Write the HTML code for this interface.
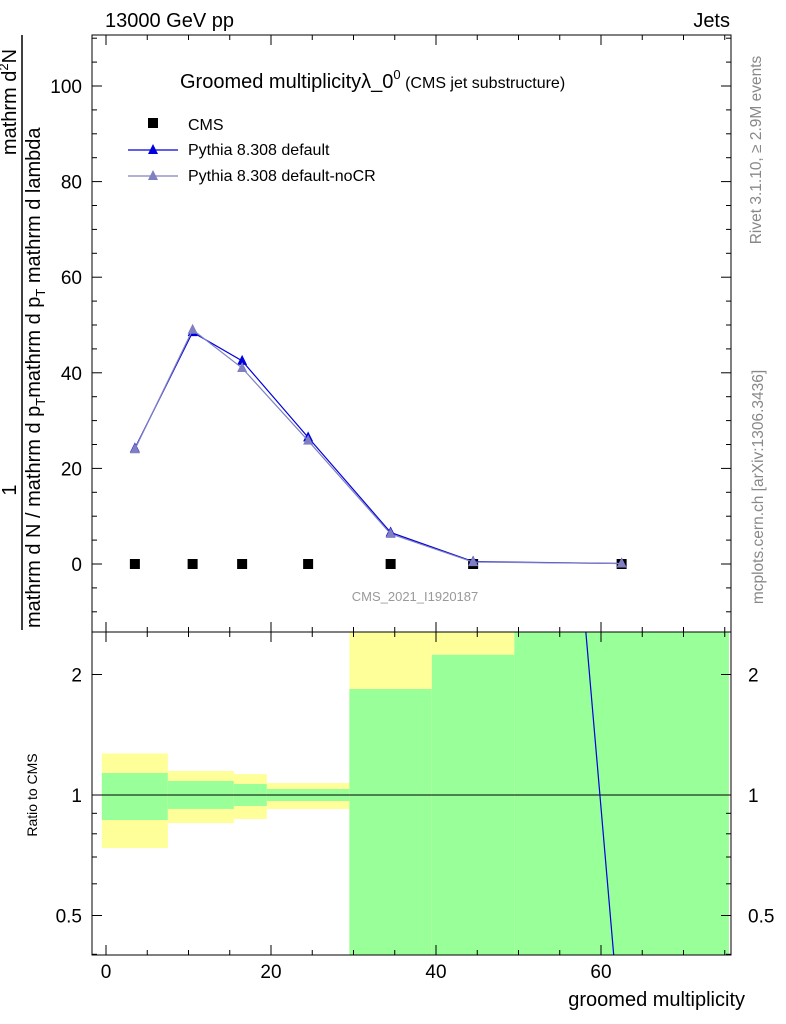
<!DOCTYPE html>
<html><head><meta charset="utf-8"><style>
body{margin:0;background:#fff}
svg{display:block;font-family:"Liberation Sans",sans-serif}
</style></head><body>
<svg id="c" width="786" height="1024" viewBox="0 0 786 1024">
<text x="105" y="27" font-size="20">13000 GeV pp</text>
<text x="730" y="27" font-size="20" text-anchor="end">Jets</text>
<text x="180" y="88" font-size="20">Groomed multiplicityλ_0<tspan font-size="13" dy="-9">0</tspan><tspan font-size="16" dy="9"> (CMS jet substructure)</tspan></text>
<text transform="translate(761,150) rotate(-90)" font-size="15.5" fill="#888" text-anchor="middle">Rivet 3.1.10, ≥ 2.9M events</text>
<text transform="translate(763,487) rotate(-90)" font-size="15.5" fill="#888" text-anchor="middle">mcplots.cern.ch [arXiv:1306.3436]</text>
<text x="415" y="601" font-size="13" fill="#999" text-anchor="middle">CMS_2021_I1920187</text>
<g font-size="20">
<text transform="translate(16,490) rotate(-90)" text-anchor="middle">1</text>
<text transform="translate(16,102) rotate(-90)" text-anchor="middle">mathrm d<tspan font-size="13" dy="-8">2</tspan><tspan dy="8">N</tspan></text>
<line x1="22" y1="630" x2="22" y2="35" stroke="#000" stroke-width="1.5"/>
<text transform="translate(40,628) rotate(-90)">mathrm d N / mathrm d p<tspan font-size="13" dy="5">T</tspan><tspan dy="-5">mathrm d p</tspan><tspan font-size="13" dy="5">T</tspan><tspan dy="-5"> mathrm d lambda</tspan></text>
</g>
<text transform="translate(37,795) rotate(-90)" font-size="14" text-anchor="middle">Ratio to CMS</text>
<text x="745" y="1006" font-size="20" text-anchor="end">groomed multiplicity</text>
<g id="g"></g>
</svg>
<script>
const binEdges=[-0.5,7.5,15.5,19.5,29.5,39.5,49.5,75.5];
const binCenters=[3.5,10.5,16.5,24.5,34.5,44.5,62.5];
const cmsValues=[0,0,0,0,0,0,0];
const pythiaDefault=[24.2,48.5,42.5,26.5,6.6,0.5,0.1];
const pythiaNoCR=[24,49,41,25.8,6.3,0.4,0.1];
const ratioDefault=[null,null,null,null,null,4700,0.235];
const greenLo=[0.866,0.923,0.939,0.966,0.3,0.3,0.3];
const greenHi=[1.135,1.084,1.065,1.035,1.84,2.24,3];
const yellowLo=[0.737,0.851,0.871,0.923,0.3,0.3,0.3];
const yellowHi=[1.27,1.148,1.128,1.071,3,3,3];
const xTicks=[0,20,40,60];
const yTicks=[0,20,40,60,80,100];
const rTicks=[0.5,1,2];

const L=92,R=731,T=35,MB=632,RB=955;
const X=v=>106+(v)*8.25;
const Y=v=>564-v*4.78;
const RY=v=>795-Math.log2(v)*120.5;
const NS="http://www.w3.org/2000/svg";
const g=document.getElementById('g');
function mk(t,a,p){const e=document.createElementNS(NS,t);for(const k in a)e.setAttribute(k,a[k]);(p||g).appendChild(e);return e;}

const defs=mk('defs',{});
const cp=mk('clipPath',{id:'rc'},defs);mk('rect',{x:L,y:MB,width:R-L,height:RB-MB},cp);
const cp2=mk('clipPath',{id:'mc'},defs);mk('rect',{x:L,y:T,width:R-L,height:MB-T},cp2);
const bands=mk('g',{'clip-path':'url(#rc)'});


for(let i=0;i<binCenters.length;i++){
 const x1=X(binEdges[i]),x2=X(binEdges[i+1]);
 const y=mk('rect',{x:x1,y:RY(yellowHi[i]),width:x2-x1,height:RY(yellowLo[i])-RY(yellowHi[i]),fill:'#ffff99'},bands);
 
 
 const gr=mk('rect',{x:x1,y:RY(greenHi[i]),width:x2-x1,height:RY(greenLo[i])-RY(greenHi[i]),fill:'#99ff99'},bands);
 
 
}
mk('line',{x1:L,x2:R,y1:RY(1),y2:RY(1),stroke:'#000'});
let rp=[];ratioDefault.forEach((v,i)=>{if(v!=null)rp.push(X(binCenters[i])+','+RY(v));});
const rl=mk('polyline',{points:rp.join(' '),fill:'none',stroke:'#0000dd','stroke-width':1.2,'clip-path':'url(#rc)'});



mk('rect',{x:L,y:T,width:R-L,height:MB-T,fill:'none',stroke:'#000'});
mk('rect',{x:L,y:MB,width:R-L,height:RB-MB,fill:'none',stroke:'#000'});
for(let v=0;v<=75;v+=5){const maj=v%20==0;const l=maj?10:5;
 for(const b of [MB,RB]){mk('line',{x1:X(v),x2:X(v),y1:b,y2:b-l,stroke:'#000'});}
 for(const t of [T,MB]){mk('line',{x1:X(v),x2:X(v),y1:t,y2:t+l,stroke:'#000'});}
}
xTicks.forEach(v=>{const t=mk('text',{x:X(v),y:978,'font-size':19,'text-anchor':'middle'});t.textContent=v;
 });
for(let v=-10;v<=110;v+=5){const l=v%20==0?10:5;
 mk('line',{x1:L,x2:L+l,y1:Y(v),y2:Y(v),stroke:'#000'});mk('line',{x1:R,x2:R-l,y1:Y(v),y2:Y(v),stroke:'#000'});}
yTicks.forEach(v=>{const t=mk('text',{x:82,y:Y(v)+7,'font-size':19,'text-anchor':'end'});t.textContent=v;
 });
[0.4,0.5,0.6,0.7,0.8,0.9,1,2].forEach(v=>{const l=rTicks.includes(v)?10:5;
 mk('line',{x1:L,x2:L+l,y1:RY(v),y2:RY(v),stroke:'#000'});mk('line',{x1:R,x2:R-l,y1:RY(v),y2:RY(v),stroke:'#000'});});
rTicks.forEach(v=>{for(const [x,a] of [[82,'end'],[748,'start']]){const t=mk('text',{x:x,y:RY(v)+7,'font-size':19,'text-anchor':a});t.textContent=v;
 }});

function series(vals,col,name){
 const gg=mk('g',{'clip-path':'url(#mc)'});
 
 
 mk('polyline',{points:vals.map((v,i)=>X(binCenters[i])+','+Y(v)).join(' '),fill:'none',stroke:col,'stroke-width':1.2},gg);
 vals.forEach((v,i)=>{const x=X(binCenters[i]),y=Y(v);
  const p=mk('polygon',{points:`${x},${y-6} ${x-5},${y+4} ${x+5},${y+4}`,fill:col},gg);
  });
}
cmsValues.forEach((v,i)=>{const r=mk('rect',{x:X(binCenters[i])-5,y:Y(v)-5,width:10,height:10,fill:'#000'});
 });
series(pythiaDefault,'#0000dd','pythia-default');
series(pythiaNoCR,'#8080c0','pythia-nocr');

const lg=mk('g',{});


mk('rect',{x:148,y:118,width:10,height:10,fill:'#000'},lg);
let t=mk('text',{x:188,y:130,'font-size':16},lg);t.textContent='CMS';
mk('line',{x1:128,x2:178,y1:150,y2:150,stroke:'#0000dd','stroke-width':1.2},lg);
mk('polygon',{points:'153,144 148,154 158,154',fill:'#0000dd'},lg);
t=mk('text',{x:188,y:155,'font-size':16},lg);t.textContent='Pythia 8.308 default';
mk('line',{x1:128,x2:178,y1:176,y2:176,stroke:'#8080c0','stroke-width':1.2},lg);
mk('polygon',{points:'153,170 148,180 158,180',fill:'#8080c0'},lg);
t=mk('text',{x:188,y:181,'font-size':16},lg);t.textContent='Pythia 8.308 default-noCR';
</script>
</body></html>
